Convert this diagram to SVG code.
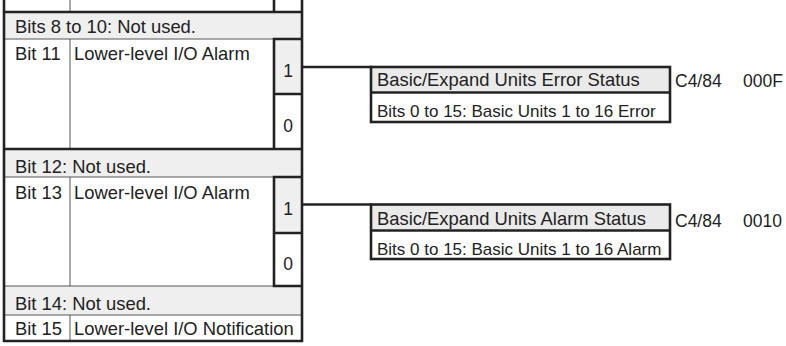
<svg xmlns="http://www.w3.org/2000/svg" width="786" height="346" viewBox="0 0 786 346">
<style>
text{font-family:"Liberation Sans",Arial,sans-serif;fill:#222}
.m{font-size:18.4px}
.s{font-size:17.5px}
.r{font-size:17px}
.th{stroke:#222;stroke-width:2.6;fill:none}
.tn{stroke:#555;stroke-width:1;fill:none}
.g{fill:#efefef}
.gh{fill:#eaeaea}
.w{fill:#fff}
</style>
<rect width="786" height="346" fill="#fff"/>
<g id="table">
  <rect class="g" x="4" y="12" width="298" height="27"/>
  <rect class="g" x="4" y="149" width="298" height="28"/>
  <rect class="g" x="4" y="286" width="298" height="29"/>
  <rect class="g" x="274" y="39" width="28" height="55"/>
  <rect class="g" x="274" y="177" width="28" height="56"/>
  <line class="tn" x1="70" y1="0" x2="70" y2="12"/>
  <line class="tn" x1="70" y1="39" x2="70" y2="149"/>
  <line class="tn" x1="70" y1="177" x2="70" y2="286"/>
  <line class="tn" x1="70" y1="315" x2="70" y2="341"/>
  <line class="tn" x1="4" y1="39" x2="274" y2="39"/>
  <line class="tn" x1="4" y1="177" x2="274" y2="177"/>
  <line class="tn" x1="4" y1="286" x2="274" y2="286"/>
  <line class="tn" x1="4" y1="315" x2="302" y2="315"/>
  <line class="th" x1="274" y1="0" x2="274" y2="12"/>
  <line class="th" x1="4" y1="0" x2="4" y2="342"/>
  <line class="th" x1="302" y1="0" x2="302" y2="342"/>
  <line class="th" x1="3" y1="12" x2="303" y2="12"/>
  <line class="th" x1="3" y1="341" x2="303" y2="341"/>
  <line class="th" x1="3" y1="149" x2="303" y2="149"/>
  <g id="box11">
    <path class="th" d="M302 39 H274 V149 M274 94 H302"/>
    <text class="s" x="288" y="77" text-anchor="middle">1</text>
    <text class="s" x="288" y="132" text-anchor="middle">0</text>
  </g>
  <g id="box13">
    <path class="th" d="M302 177 H274 V286 H302 M274 233 H302"/>
    <text class="s" x="288" y="215" text-anchor="middle">1</text>
    <text class="s" x="288" y="270" text-anchor="middle">0</text>
  </g>
  <text class="m" x="15" y="32.5">Bits 8 to 10: Not used.</text>
  <text class="m" x="15" y="60">Bit 11</text>
  <text class="m" x="74" y="60">Lower-level I/O Alarm</text>
  <text class="m" x="15" y="172.5">Bit 12: Not used.</text>
  <text class="m" x="15" y="198.5">Bit 13</text>
  <text class="m" x="74" y="198.5">Lower-level I/O Alarm</text>
  <text class="m" x="15" y="310">Bit 14: Not used.</text>
  <text class="m" x="15" y="335">Bit 15</text>
  <text class="m" x="74" y="335">Lower-level I/O Notification</text>
</g>
<g id="connectors">
  <line class="th" x1="302" y1="67" x2="372" y2="67"/>
  <line class="th" x1="302" y1="204.5" x2="372" y2="204.5"/>
</g>
<g id="error-status">
  <rect class="gh" x="371" y="67" width="299" height="25"/>
  <rect class="w" x="371" y="92" width="299" height="30"/>
  <rect class="th" x="371" y="67" width="299" height="55"/>
  <line class="th" x1="371" y1="92.5" x2="670" y2="92.5"/>
  <text class="m" x="377" y="86">Basic/Expand Units Error Status</text>
  <text class="r" x="377" y="116.5">Bits 0 to 15: Basic Units 1 to 16 Error</text>
  <text class="s" x="675" y="87">C4/84</text>
  <text class="s" x="743" y="87">000F</text>
</g>
<g id="alarm-status">
  <rect class="gh" x="371" y="204.5" width="299" height="26"/>
  <rect class="w" x="371" y="230.5" width="299" height="28"/>
  <rect class="th" x="371" y="204.5" width="299" height="54.5"/>
  <line class="th" x1="371" y1="230.5" x2="670" y2="230.5"/>
  <text class="m" x="377" y="225">Basic/Expand Units Alarm Status</text>
  <text class="r" x="377" y="254.5">Bits 0 to 15: Basic Units 1 to 16 Alarm</text>
  <text class="s" x="675" y="226.5">C4/84</text>
  <text class="s" x="743" y="226.5">0010</text>
</g>
</svg>
